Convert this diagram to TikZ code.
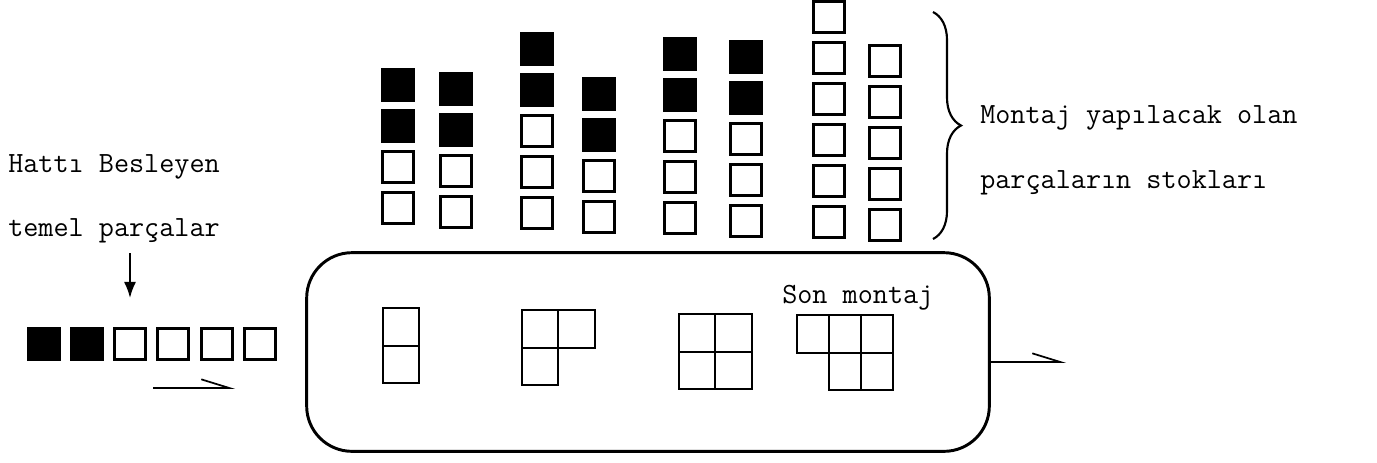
\documentclass[tikz,border=0pt]{standalone}
\usepackage{tikz}
\usetikzlibrary{arrows.meta,positioning,decorations.pathreplacing}

\begin{document}
\begin{tikzpicture}[x=0.75pt, y=-0.75pt, >=Latex,
    font=\fontsize{22}{26}\selectfont\ttfamily,
    stock/.style={draw, line width=1.8pt, minimum size=23.25pt, inner sep=0pt, fill=white},
    full/.style={stock, fill=black},
    cell/.style={draw, line width=1.4pt, minimum width=27.5pt, minimum height=28pt, inner sep=0pt, outer sep=0pt},
    lbl/.style={inner sep=0pt, anchor=base west},
    harp/.style={line width=1.3pt, -{Straight Barb[harpoon, length=21pt, width=13pt]}}]
  \useasboundingbox (0,0) rectangle (1377,462);

  % stocks of the parts to be assembled
  \foreach \c/\x/\y/\n/\k in {1/398/208/4/2, 2/456/212/4/2, 3/537/213/5/2, 4/599/217/4/2,
                              5/680/218/5/2, 6/746/221/5/2, 7/829/222/6/0, 8/885/225/5/0}{
    \foreach \i in {1,...,\n}{
      \pgfmathtruncatemacro\blk{\i>\n-\k}
      \ifnum\blk=1
        \node[full] (s\c-\i) at (\x,{\y-41*(\i-1)}) {};
      \else
        \node[stock] (s\c-\i) at (\x,{\y-41*(\i-1)}) {};
      \fi
    }
  }
  \draw[line width=1.6pt, decorate, decoration={brace, amplitude=21pt}] (933,12) -- (933,239);
  \node[lbl] (mon) at (980,123) {Montaj yapılacak olan};
  \node[lbl] (par) at (980,188) {parçaların stokları};

  % feeding line
  \foreach \i/\x in {1/44, 2/87, 3/130, 4/173, 5/217, 6/260}{
    \ifnum\i<3
      \node[full] (f\i) at (\x,344) {};
    \else
      \node[stock] (f\i) at (\x,344) {};
    \fi
  }
  \node[lbl] (hat) at (8,172) {Hattı Besleyen};
  \node[lbl] (tem) at (8,236) {temel parçalar};
  \draw[-{Latex[length=12pt, width=9pt]}, line width=1.3pt, shorten <=8pt, shorten >=22pt] (tem.south -| f3) -- (f3.north);
  \coordinate (fa) at (153,388);
  \coordinate (fb) at (235,388);
  \draw[harp] (fa) -- (fb);

  % assembly line
  \node[draw, line width=2.2pt, rounded corners=34pt, minimum width=512pt, minimum height=149pt] (line) at (648,352) {};
  \node[cell] (a1) at (401,327) {};
  \node[cell, below=0pt of a1] (a1b) {};
  \node[cell] (a2) at (540,329) {};
  \node[cell, right=0pt of a2] (a2r) {};
  \node[cell, below=0pt of a2] (a2b) {};
  \node[cell] (a3) at (697,333) {};
  \node[cell, right=0pt of a3] (a3r) {};
  \node[cell, below=0pt of a3] (a3b) {};
  \node[cell, below=0pt of a3r] (a3rb) {};
  \node[lbl] (son) at (782,303) {Son montaj};
  \node[cell, minimum width=24pt] (a4) at (813,334) {};
  \node[cell, minimum width=24pt, right=0pt of a4] (a4r) {};
  \node[cell, minimum width=24pt, right=0pt of a4r] (a4rr) {};
  \node[cell, minimum width=24pt, below=0pt of a4r] (a4rb) {};
  \node[cell, minimum width=24pt, below=0pt of a4rr] (a4rrb) {};
  \coordinate (out) at (1066,362);
  \draw[harp] (line.east |- out) -- (out);
\end{tikzpicture}
\end{document}
